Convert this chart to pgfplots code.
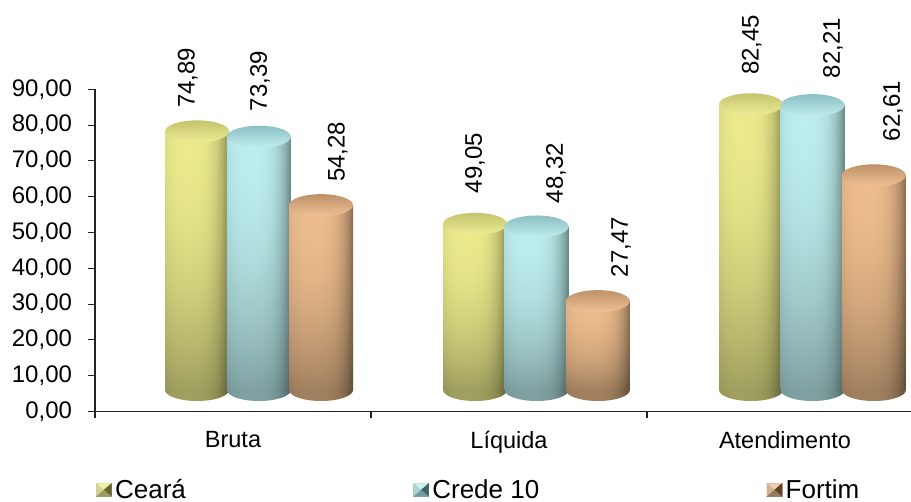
\documentclass[border=0pt]{standalone}
\usepackage{fontspec}
\setmainfont{Liberation Sans}
\usepackage{pgfplots}
\pgfplotsset{compat=1.18}
\usetikzlibrary{shapes.geometric}

% cylinder side: r g b, then brightness at the bottom and its gain to the top
% (a path's box takes up the middle 25bp-75bp of a shading, hence 25 sub 50 div)
\newcommand{\cylshade}[6]{%
  \pgfdeclarefunctionalshading{#1}{\pgfpointorigin}{\pgfpoint{100bp}{100bp}}{}{
    25 sub 50 div dup 2 exch sub mul #6 mul #5 add
    exch 25 sub 50 div 0.36 sub dup mul dup dup mul -2.1 mul exch -0.23 mul add 1 add
    mul dup dup
    #4 mul exch #3 mul exch 3 -1 roll #2 mul 3 1 roll
  }}
\cylshade{yelbody}{0.92}{0.92}{0.55}{0.68}{0.32}
\cylshade{blubody}{0.74}{0.93}{0.93}{0.68}{0.32}
\cylshade{orabody}{0.93}{0.74}{0.55}{0.68}{0.32}
\cylshade{yelfoot}{0.92}{0.92}{0.55}{0.68}{0.0}
\cylshade{blufoot}{0.74}{0.93}{0.93}{0.68}{0.0}
\cylshade{orafoot}{0.93}{0.74}{0.55}{0.68}{0.0}

\definecolor{yeltop}{RGB}{196,196,110}
\definecolor{yelcap}{RGB}{236,236,148}
\definecolor{blutop}{RGB}{140,190,195}
\definecolor{blucap}{RGB}{192,238,238}
\definecolor{oratop}{RGB}{190,145,105}
\definecolor{oracap}{RGB}{240,192,148}
\definecolor{yelbr}{RGB}{100,100,50}
\definecolor{blubr}{RGB}{60,100,105}
\definecolor{orabr}{RGB}{95,65,40}
\definecolor{yellt}{RGB}{240,240,170}
\definecolor{blult}{RGB}{205,240,240}
\definecolor{oralt}{RGB}{240,205,170}
\definecolor{axl}{RGB}{35,35,35}

\pgfplotstableread{
x y base
0.3696 74.89 2.65
1.377 49.05 2.65
2.377 82.45 2.65
}\ceara
\pgfplotstableread{
x y base
0.594 73.39 2.65
1.600 48.32 2.65
2.600 82.21 2.65
}\crede
\pgfplotstableread{
x y base
0.819 54.28 2.65
1.822 27.47 2.65
2.822 62.61 2.65
}\fortim
% value labels: rotated text stands well above the bars
\pgfplotstableread{
x y lab
0.336 93.2 74,89
0.598 92.3 73,39
0.880 72.5 54,28
1.377 69.4 49,05
1.670 66.6 48,32
1.906 45.9 27,47
2.380 102.4 82,45
2.674 101.5 82,21
2.891 83.9 62,61
}\vals

\pgfplotsset{
  cylaxis/.style={at={(0pt,21.5pt)}, anchor=south west, x=276pt, y=3.58pt,
    xmin=0, xmax=2.957, ymin=2.65, ymax=90, hide axis},
}
\tikzset{disc/.style={ellipse, inner sep=0pt, minimum width=64pt, minimum height=22pt, anchor=center}}
% nodes near coords go on top of a whole axis, so the feet get an axis of their own
\newcommand{\cylfoot}[2]{%
  \addplot[mark=none, draw=none, nodes near coords={}, nodes near coords style={disc, shading=#2}] table[x=x, y=base] {#1};
}
% one ybar plot per bar, since a plot with several bars shades them as one path
\newcommand{\cylinder}[4]{%
  \pgfplotsinvokeforeach{0,1,2}{%
    \addplot[ybar, bar width=64pt, bar shift=0pt, draw=none, shading=#2, restrict x to domain=##1:##1.999] table[x=x, y=y] {#1};
  }
  \addplot[mark=none, draw=none, nodes near coords={}, nodes near coords style={disc, top color=#3, bottom color=#4}] table[x=x, y=y] {#1};
}
% bevelled legend square
\newcommand{\legsq}[3]{%
  \fill[#1!70!#3] (0pt,-6.5pt) rectangle (15pt,6.5pt);
  \fill[#1] (0pt,6.5pt) -- (15pt,6.5pt) -- (7.5pt,0pt) -- cycle;
  \fill[#1!80!#3] (0pt,6.5pt) -- (0pt,-6.5pt) -- (7.5pt,0pt) -- cycle;
  \fill[#3] (15pt,6.5pt) -- (15pt,-6.5pt) -- (7.5pt,0pt) -- cycle;
  \fill[#3!60!#1] (0pt,-6.5pt) -- (15pt,-6.5pt) -- (7.5pt,0pt) -- cycle;
}

\begin{document}
\begin{tikzpicture}
\useasboundingbox (-95pt,-90.5pt) rectangle (816pt,411.5pt);
\begin{axis}[
  at={(0pt,0pt)}, anchor=origin,
  x=276pt, y=3.58pt,
  xmin=0, xmax=2.957, ymin=0, ymax=90,
  clip=false,
  axis lines=left,
  axis line style={-, line width=1.3pt, color=axl},
  tick style={line width=1.1pt, color=axl},
  tick align=outside,
  major tick length=6.5pt,
  ytick={0,10,...,90},
  y tick label style={font=\fontsize{24}{28}\selectfont, xshift=-13pt,
    /pgf/number format/fixed, /pgf/number format/fixed zerofill, /pgf/number format/precision=2,
    /pgf/number format/use comma, /pgf/number format/1000 sep={}, /pgf/number format/assume math mode=true},
  xtick={0.5,1.5,2.5},
  xticklabels={Bruta,Líquida,Atendimento},
  x tick label style={font=\fontsize{23.5}{28}\selectfont, yshift=-10pt},
  xtick style={draw=none},
  extra x ticks={0,1,2},
  extra x tick labels={},
  extra x tick style={xtick style={draw=axl, line width=1.1pt}},
  legend columns=3,
  legend style={at={(axis description cs:0.00125,-0.244)}, anchor=west, draw=none, fill=none, inner sep=0pt,
    font=\fontsize{26}{30}\selectfont,
    /tikz/every odd column/.append style={column sep=1.5pt},
    /tikz/every even column/.append style={column sep=225.5pt}},
]
\addlegendimage{legend image code/.code={\legsq{yellt}{yel}{yelbr}}}
\addlegendentry{Ceará}
\addlegendimage{legend image code/.code={\legsq{blult}{blu}{blubr}}}
\addlegendentry{Crede 10}
\addlegendimage{legend image code/.code={\legsq{oralt}{ora}{orabr}}}
\addlegendentry{Fortim}
\addplot[mark=none, draw=none, point meta=explicit symbolic, nodes near coords,
  nodes near coords style={rotate=90, anchor=center, font=\fontsize{24}{28}\selectfont, inner sep=0pt}]
  table[x=x, y=y, meta=lab] {\vals};
\end{axis}
\begin{axis}[cylaxis, clip=false]
\cylfoot{\ceara}{yelfoot}
\cylfoot{\crede}{blufoot}
\cylfoot{\fortim}{orafoot}
\end{axis}
\begin{axis}[cylaxis, clip=true]
\cylinder{\ceara}{yelbody}{yeltop}{yelcap}
\cylinder{\crede}{blubody}{blutop}{blucap}
\cylinder{\fortim}{orabody}{oratop}{oracap}
\end{axis}
\end{tikzpicture}
\end{document}
